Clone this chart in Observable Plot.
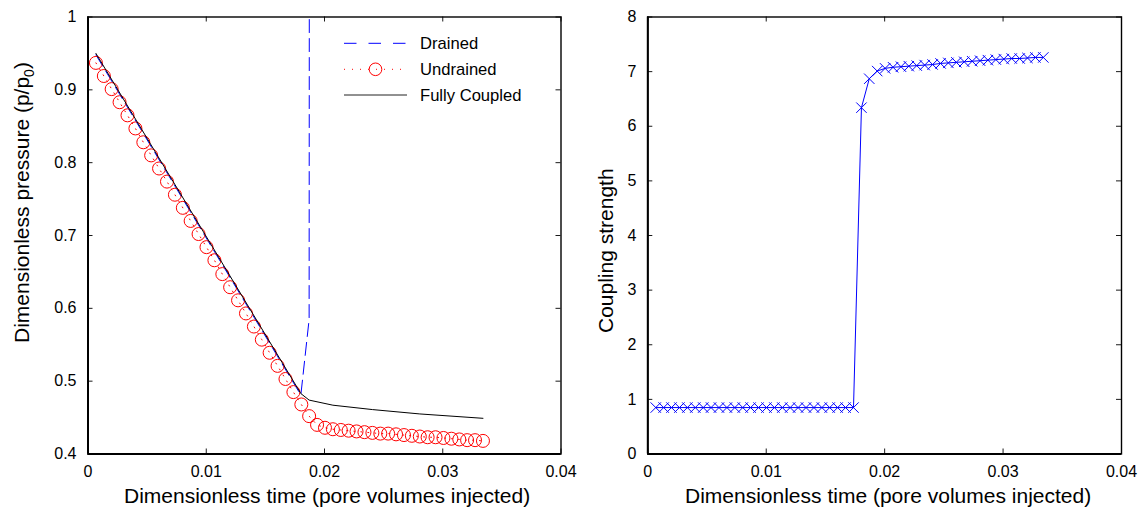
<!DOCTYPE html>
<html><head><meta charset="utf-8">
<script src="https://cdn.jsdelivr.net/npm/d3@7"></script>
<script src="https://cdn.jsdelivr.net/npm/@observablehq/plot@0.6"></script>
<style>
body{margin:0;background:#fff;}
#wrap{position:relative;width:1139px;height:510px;overflow:hidden;background:#fff;}
#left,#right{position:absolute;top:0;}
#left{left:0;} #right{left:575px;}
</style></head><body><div id="wrap"><div id="left"></div><div id="right"></div></div>
<script>
// ---- data ----
const timeSteps = [0.00067,0.00134,0.00200,0.00267,0.00334,0.00401,0.00468,0.00534,0.00601,0.00668,
  0.00735,0.00802,0.00868,0.00935,0.01002,0.01069,0.01136,0.01202,0.01269,0.01336,
  0.01403,0.01470,0.01536,0.01603,0.01670,0.01737,0.01804,0.01870,0.01937,0.02004,
  0.02071,0.02138,0.02204,0.02271,0.02338,0.02405,0.02472,0.02538,0.02605,0.02672,
  0.02739,0.02806,0.02872,0.02939,0.03006,0.03073,0.03140,0.03206,0.03273,0.03340];
const undrainedPressure = [0.937,0.919,0.901,0.883,0.865,0.847,0.828,0.810,0.792,0.774,
  0.756,0.738,0.720,0.702,0.684,0.666,0.647,0.629,0.611,0.593,
  0.575,0.557,0.539,0.521,0.503,0.485,0.468,0.452,0.440,0.436,
  0.434,0.433,0.432,0.431,0.430,0.429,0.428,0.428,0.427,0.426,
  0.425,0.424,0.423,0.423,0.422,0.421,0.420,0.419,0.419,0.418];
const coupledTime = [0.00067,0.01800,0.01870,0.02071,0.02405,0.02806,0.03340];
const coupledPressure = [0.950,0.483,0.474,0.467,0.461,0.455,0.449];
const drainedTime = [0.00067,0.01800,0.01870,0.01937];
const drainedPressure = [0.948,0.481,0.585,20];
const couplingStrength = [0.85,0.85,0.85,0.85,0.85,0.85,0.85,0.85,0.85,0.85,
  0.85,0.85,0.85,0.85,0.85,0.85,0.85,0.85,0.85,0.85,
  0.85,0.85,0.85,0.85,0.85,0.85,6.34,6.87,7.01,7.06,
  7.08,7.09,7.10,7.11,7.12,7.13,7.15,7.16,7.17,7.18,
  7.19,7.20,7.21,7.22,7.23,7.24,7.24,7.25,7.26,7.26];
const xTicks = [0, 0.01, 0.02, 0.03, 0.04];
const pressureTicks = [0.4, 0.5, 0.6, 0.7, 0.8, 0.9, 1];
const couplingTicks = [0, 1, 2, 3, 4, 5, 6, 7, 8];
const seriesNames = ["Drained", "Undrained", "Fully Coupled"];
const xLabel = "Dimensionless time (pore volumes injected)";
const pressureLabel = ["Dimensionless pressure (p/p", "0", ")"];
const couplingLabel = "Coupling strength";

// ---- tables ----
const undrained = timeSteps.map((t, i) => ({t, v: undrainedPressure[i]}));
const coupled = coupledTime.map((t, i) => ({t, v: coupledPressure[i]}));
const drained = drainedTime.map((t, i) => ({t, v: drainedPressure[i]}));
const coupling = timeSteps.map((t, i) => ({t, v: couplingStrength[i]}));

const H = 510, topY = 16.5, bottomY = 453.5, frameH = bottomY - topY;
const FONT = "'Liberation Sans', Arial, Helvetica, sans-serif";
const BLUE = "#0000ff", RED = "#ff0000";

function frameMarks(xt, yt, frameW, yBase) {
  return [
    Plot.tickX(xt, {x: d => d, insetTop: frameH - 5, stroke: "#000", strokeWidth: 0.9}),
    Plot.tickX(xt, {x: d => d, insetBottom: frameH - 5, stroke: "#000", strokeWidth: 0.9}),
    Plot.tickY(yt, {y: d => d, insetRight: frameW - 5, stroke: "#000", strokeWidth: 0.9}),
    Plot.tickY(yt, {y: d => d, insetLeft: frameW - 5, stroke: "#000", strokeWidth: 0.9}),
    Plot.frame({stroke: "#000", strokeWidth: 1.4}),
    Plot.ruleX([0], {stroke: "#000", strokeWidth: 2}),
    Plot.ruleY([yBase], {stroke: "#000", strokeWidth: 2})
  ];
}

// ---- left chart ----
const W1 = 575, L1 = 87.5, R1 = 560.5;
const leftSvg = Plot.plot({
  width: W1, height: H,
  marginLeft: L1, marginRight: W1 - R1, marginTop: topY, marginBottom: H - bottomY,
  style: {fontFamily: FONT, fontSize: "16px", color: "#000", background: "transparent", overflow: "visible"},
  x: {domain: [0, 0.04], ticks: xTicks, tickFormat: d => String(d), tickSize: 0, tickPadding: 12, label: null},
  y: {domain: [0.4, 1], ticks: pressureTicks, tickFormat: d => String(d), tickSize: 0, tickPadding: 11.5, label: null},
  marks: [
    Plot.line(drained, {x: "t", y: "v", stroke: BLUE, strokeWidth: 1, strokeDasharray: "13,6", clip: true}),
    Plot.line(undrained, {x: "t", y: "v", stroke: RED, strokeWidth: 1, strokeDasharray: "1,6"}),
    Plot.dot(undrained, {x: "t", y: "v", r: 6.5, stroke: RED, strokeWidth: 1, fill: "none"}),
    Plot.line(coupled, {x: "t", y: "v", stroke: "#000", strokeWidth: 1}),
    ...frameMarks(xTicks, pressureTicks, R1 - L1, 0.4)
  ]
});
document.getElementById("left").appendChild(leftSvg);

// ---- right chart ----
const X2 = 575, W2 = 564, L2 = 647.3 - X2, R2 = 1121 - X2;
const rightSvg = Plot.plot({
  width: W2, height: H,
  marginLeft: L2, marginRight: W2 - R2, marginTop: topY, marginBottom: H - bottomY,
  style: {fontFamily: FONT, fontSize: "16px", color: "#000", background: "transparent", overflow: "visible"},
  x: {domain: [0, 0.04], ticks: xTicks, tickFormat: d => String(d), tickSize: 0, tickPadding: 12, label: null},
  y: {domain: [0, 8], ticks: couplingTicks, tickFormat: d => String(d), tickSize: 0, tickPadding: 11.5, label: null},
  marks: [
    Plot.line(coupling, {x: "t", y: "v", stroke: BLUE, strokeWidth: 1}),
    Plot.dot(coupling, {x: "t", y: "v", symbol: "times", r: 4.8, stroke: BLUE, strokeWidth: 1}),
    ...frameMarks(xTicks, couplingTicks, R2 - L2, 0)
  ]
});
document.getElementById("right").appendChild(rightSvg);

// ---- axis titles ----
function addLabels(svg, xStart, yBaseX, yStart, yText) {
  const s = d3.select(svg);
  s.append("text").attr("x", xStart).attr("y", 503).attr("text-anchor", "start")
    .attr("font-family", FONT).attr("font-size", 21).attr("fill", "#000").text(xLabel);
  const g = s.append("g").attr("transform", `translate(${yBaseX},${yStart}) rotate(-90)`);
  const t = g.append("text").attr("text-anchor", "start")
    .attr("font-family", FONT).attr("font-size", 21).attr("fill", "#000");
  if (Array.isArray(yText)) {
    t.append("tspan").text(yText[0]);
    t.append("tspan").attr("dy", 5).attr("font-size", 14).text(yText[1]);
    t.append("tspan").attr("dy", -5).text(yText[2]);
  } else t.text(yText);
}
addLabels(leftSvg, 124, 29, 343, pressureLabel);
addLabels(rightSvg, 685 - X2, 613 - X2, 333, couplingLabel);

// ---- legend ----
const lg = d3.select(leftSvg).append("g");
const rowsY = [43.3, 69.3, 95];
const lx0 = 344, lx1 = 407, tx = 420;
lg.append("line").attr("x1", lx0).attr("x2", lx1).attr("y1", rowsY[0]).attr("y2", rowsY[0])
  .attr("stroke", BLUE).attr("stroke-dasharray", "12.5,12").attr("stroke-width", 1);
lg.append("line").attr("x1", lx0).attr("x2", lx1).attr("y1", rowsY[1]).attr("y2", rowsY[1])
  .attr("stroke", RED).attr("stroke-dasharray", "1,7").attr("stroke-width", 1);
lg.append("circle").attr("cx", (lx0 + lx1) / 2).attr("cy", rowsY[1]).attr("r", 6.3)
  .attr("fill", "none").attr("stroke", RED).attr("stroke-width", 1);
lg.append("line").attr("x1", lx0).attr("x2", lx1).attr("y1", rowsY[2]).attr("y2", rowsY[2])
  .attr("stroke", "#222").attr("stroke-width", 1);
seriesNames.forEach((n, i) => {
  lg.append("text").attr("x", tx).attr("y", rowsY[i] + 5.8).attr("text-anchor", "start")
    .attr("font-family", FONT).attr("font-size", 16.6).attr("fill", "#000").text(n);
});
</script></body></html>
